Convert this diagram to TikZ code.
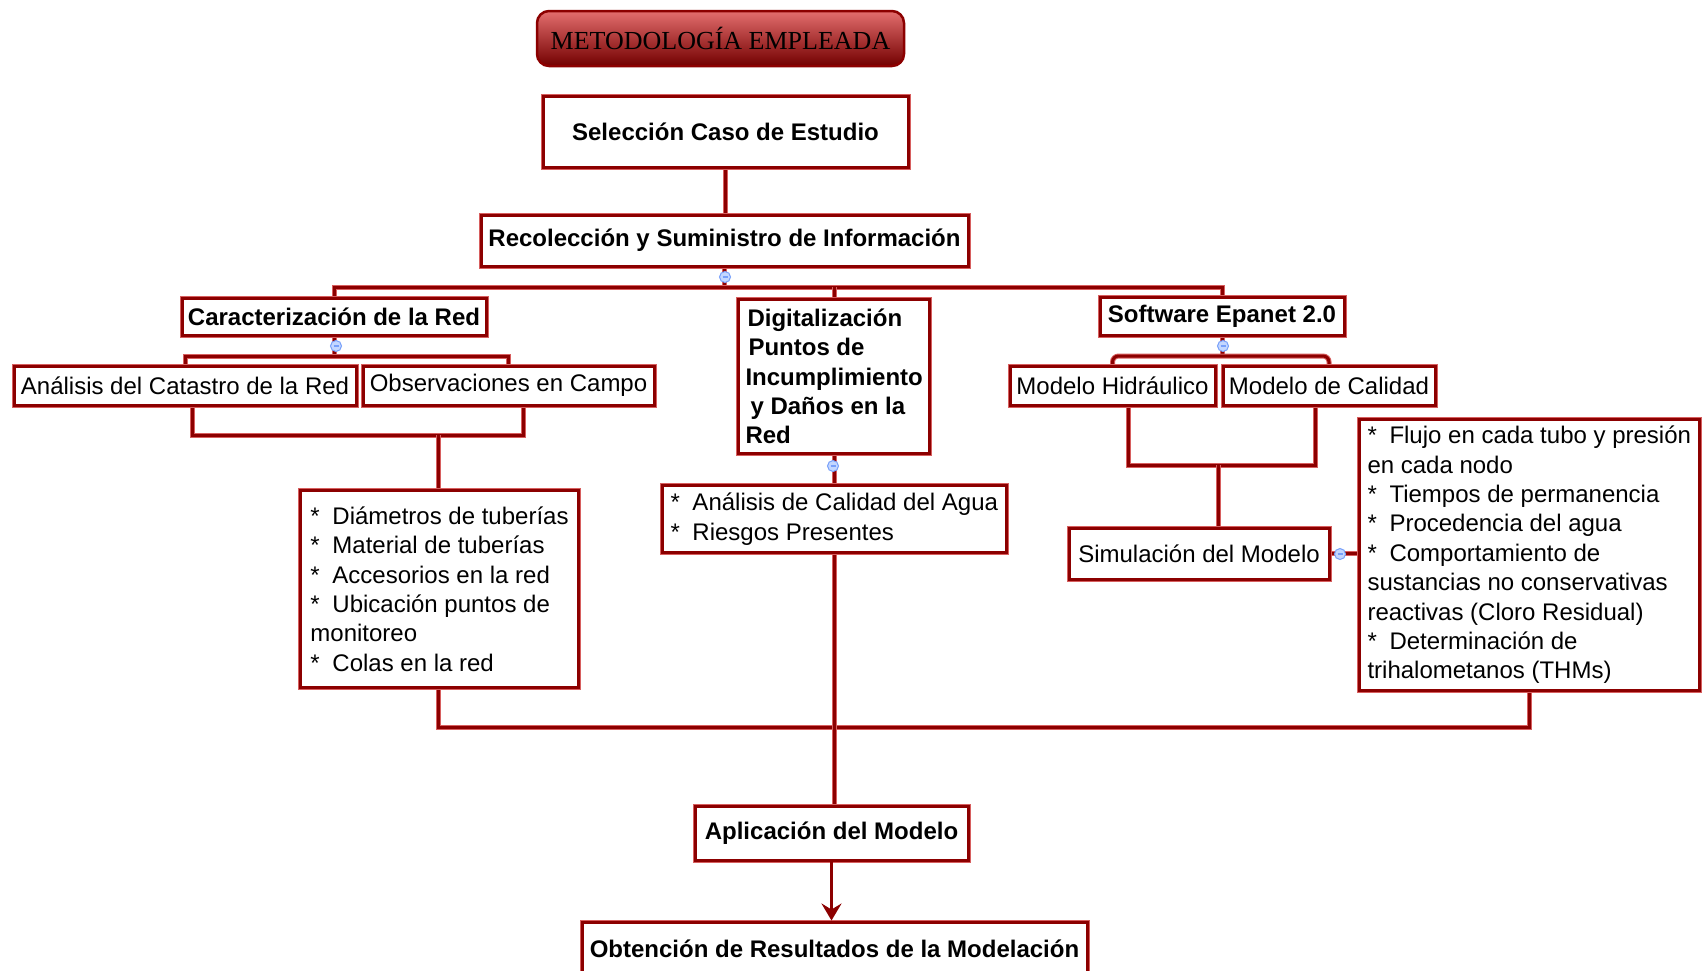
\documentclass[tikz,border=0pt]{standalone}
\usepackage{fontspec}
\setmainfont{Liberation Sans}
\newfontfamily\titlefont{Liberation Serif}
\usetikzlibrary{arrows.meta,calc}
\definecolor{dred}{RGB}{140,0,0}
\definecolor{halo}{RGB}{215,95,95}
\definecolor{tlight}{RGB}{228,110,110}
\definecolor{tmid}{RGB}{190,25,25}
\definecolor{tdark}{RGB}{115,0,0}
\definecolor{dotfill}{RGB}{195,215,255}
\definecolor{dotline}{RGB}{120,160,250}
\newcommand{\bul}{\makebox[22pt][l]{*}}
\pgfdeclarelayer{background}
\pgfsetlayers{background,main}
\begin{document}
\begin{tikzpicture}[x=1pt,y=-1pt,
  box/.style={draw=dred, line width=3pt, fill=white, preaction={draw=halo, line width=5pt},
    inner sep=0pt, font=\fontsize{24}{29.4}\selectfont},
  rbox/.style={box},
  bbox/.style={box, font=\bfseries\fontsize{24}{29.4}\selectfont},
  lbox/.style={box, anchor=north west, align=left, inner xsep=8pt, inner ysep=2pt},
  lboxb/.style={lbox, font=\bfseries\fontsize{24}{29.4}\selectfont},
  conn/.style={draw=dred, line width=3pt, preaction={draw=halo, line width=5pt}},
  arr/.style={draw=dred, line width=3pt, -{Stealth[length=17pt,width=20pt,inset=6pt]}},
  titlebox/.style={draw=dred, line width=2.5pt, rounded corners=12pt,
    top color=tlight, middle color=tmid, bottom color=tdark,
    minimum width=367pt, minimum height=55pt, inner sep=0pt,
    font=\titlefont\fontsize{26}{30}\selectfont, text=black}]
\clip (0,0) rectangle (1705,970);

% nodes
\node[titlebox] (tit) at (720.5,38.5) {METODOLOGÍA EMPLEADA};
\node[bbox, minimum width=365pt, minimum height=71pt] (sel) at (725.5,131.5) {Selección Caso de Estudio};
\node[bbox, minimum width=487pt, minimum height=51pt] (rec) at (724.5,240.5) {Recolección y Suministro de Información};
\node[bbox, minimum width=304pt, minimum height=37pt] (carac) at (334,316.5) {Caracterización de la Red};
\node[rbox, minimum width=342pt, minimum height=39pt] (anal) at (185,385.5) {Análisis del Catastro de la Red};
\node[rbox, minimum width=291pt, minimum height=39pt] (obs) at (508.5,385.5) {Observaciones en Campo};
\node[lbox, minimum width=278pt, minimum height=197pt] (diam) at (299,489)
  {\bul Diámetros de tuberías\\ \bul Material de tuberías\\ \bul Accesorios en la red\\
   \bul Ubicación puntos de\\ monitoreo\\ \bul Colas en la red};
\node[lboxb, minimum width=191pt, minimum height=154pt, inner xsep=7pt] (dig) at (737,298)
  {\hspace*{2pt}Digitalización\\ \hspace*{3pt}Puntos de\\ Incumplimiento\\ \hspace*{5pt}y Daños en la\\ Red};
\node[lbox, minimum width=342pt, minimum height=67pt] (agua) at (661,484)
  {\bul Análisis de Calidad del Agua\\ \bul Riesgos Presentes};
\node[bbox, minimum width=244pt, minimum height=38pt] (soft) at (1222,316) {Software Epanet 2.0};
\node[rbox, minimum width=205pt, minimum height=39pt] (hid) at (1112.5,385.5) {Modelo Hidráulico};
\node[rbox, minimum width=212pt, minimum height=39pt] (cal) at (1329,385.5) {Modelo de Calidad};
\node[rbox, minimum width=260pt, minimum height=51pt] (sim) at (1199,553.5) {Simulación del Modelo};
\node[lbox, minimum width=338pt, minimum height=271pt] (flujo) at (1358,418)
  {\bul Flujo en cada tubo y presión\\ en cada nodo\\ \bul Tiempos de permanencia\\
   \bul Procedencia del agua\\ \bul Comportamiento de\\ sustancias no conservativas\\
   reactivas (Cloro Residual)\\ \bul Determinación de\\ trihalometanos (THMs)};
\node[bbox, minimum width=273pt, minimum height=54pt] (apl) at (831.5,833) {Aplicación del Modelo};
\node[bbox, minimum width=505pt, minimum height=54pt] (obt) at (834.5,949) {Obtención de Resultados de la Modelación};

\begin{pgfonlayer}{background}
\fill[white] (0,0) rectangle (1705,970);
\coordinate (b1) at (725,287);
\draw[conn] (sel.south) -- (sel.south |- rec.north);
\draw[conn] (rec.south) -- (rec.south |- b1);
\draw[conn] (carac.north) |- (b1) -| (soft.north);
\draw[conn] (dig.north) -- (dig.north |- b1);

\coordinate (b2) at (336,356);
\draw[conn] (carac.south) -- (carac.south |- b2);
\draw[conn] (anal.north) |- (b2) -| (obs.north);

\coordinate (b3) at (438,435);
\draw[conn] ($(anal.south)+(7,0)$) |- (b3) -| ($(obs.south)+(15,0)$);
\draw[conn] (b3) -- (b3 |- diam.north);

\coordinate (b4) at (438,727);
\draw[conn] (b4 |- diam.south) |- (flujo.south |- b4) -- (flujo.south);

\draw[conn] (dig.south) -- (dig.south |- agua.north);
\draw[conn] (agua.south) -- (agua.south |- apl.north);

\coordinate (b5) at (1223,356);
\draw[conn] (soft.south) -- (soft.south |- b5);
\draw[conn, rounded corners=6pt] (hid.north) |- (b5) -| (cal.north);

\coordinate (b6) at (1218,465);
\draw[conn] ($(hid.south)+(16,0)$) |- (b6) -| ($(cal.south)+(-14,0)$);
\draw[conn] (b6) -- (b6 |- sim.north);

\draw[conn] (sim.east) -- (flujo.west |- sim.east);
\end{pgfonlayer}
\draw[arr] (apl.south) -- (apl.south |- obt.north);

% collapse buttons
\foreach \x/\y in {725/277, 336/346, 1223/346, 833/466, 1340/554} {
  \draw[dotline, fill=dotfill, line width=1pt] (\x,\y) circle (5.5);
  \draw[dotline, line width=1.2pt] (\x-2.5,\y) -- (\x+2.5,\y);
}
\end{tikzpicture}
\end{document}
